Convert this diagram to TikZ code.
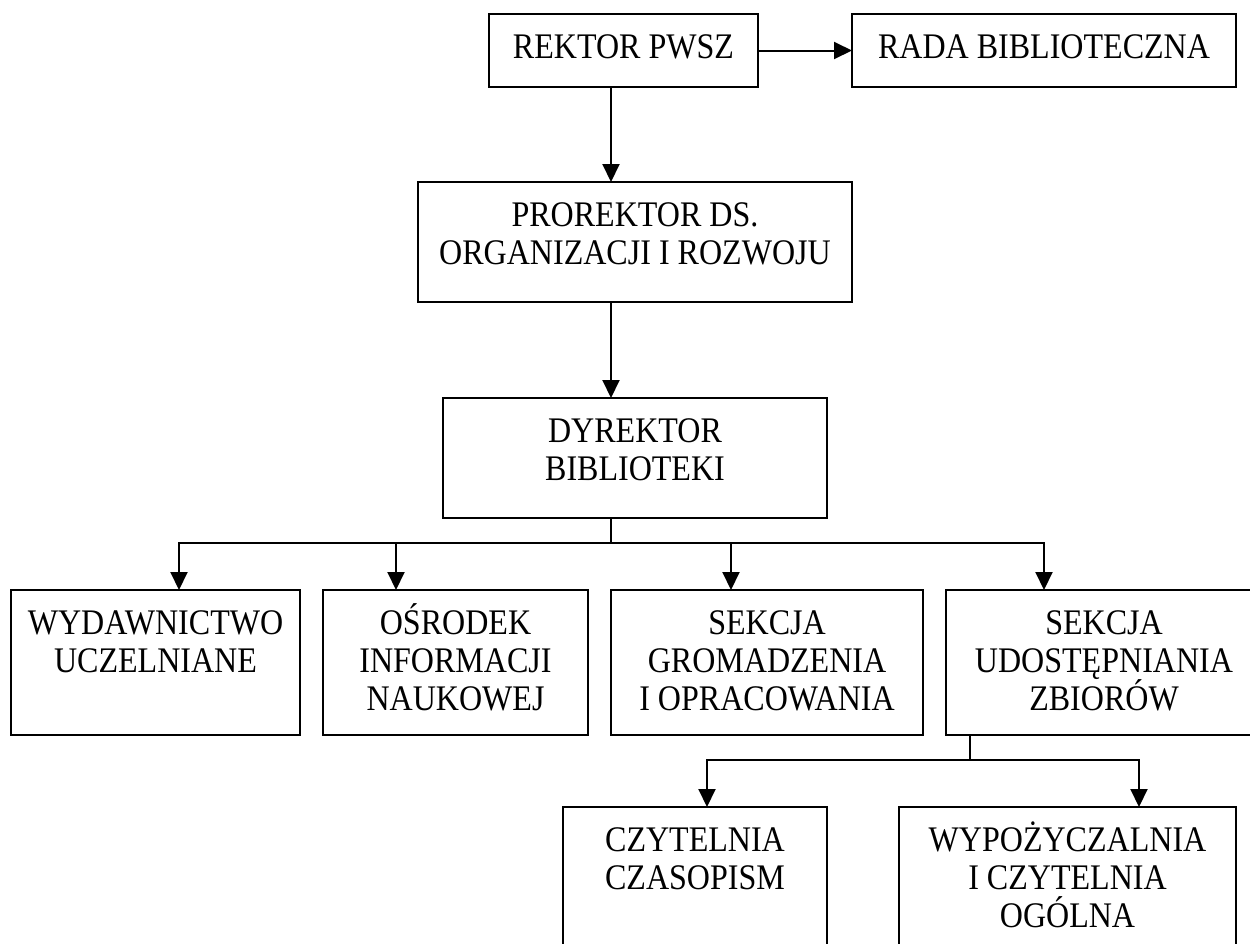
\documentclass[tikz,border=0pt]{standalone}
\usepackage{fontspec}
\setmainfont{Liberation Serif}[FakeStretch=0.89]
\usetikzlibrary{arrows.meta,calc}
\tikzset{
  orgbox/.style={draw, line width=1pt, rectangle, inner sep=0pt, outer sep=0pt, anchor=north west},
  orgtext/.style={anchor=north, inner sep=0pt, align=center, font=\fontsize{18}{19}\selectfont},
  conn/.style={line width=1pt},
  arr/.style={line width=1pt, -{Triangle[length=9pt,width=8.5pt]}}
}
\newcommand\obox[6]{%
  \node[orgbox, minimum width={(#4-#2)*0.5pt}, minimum height={(#5-#3)*0.5pt}] (#1) at (#2,#3) {};
  \node[orgtext] (#1-t) at ([yshift=-5pt]#1.north) {\rule{0pt}{17pt}#6};
}
\begin{document}
\begin{tikzpicture}[x=0.5pt,y=-0.5pt,execute at begin picture={\lineskiplimit=-20pt\relax}]
\useasboundingbox (0,0) rectangle (1250,944);
\obox{rek}{489}{14}{758}{87}{REKTOR PWSZ}
\obox{rada}{852}{14}{1236}{87}{RADA BIBLIOTECZNA}
\obox{pro}{418}{182}{852}{302}{PROREKTOR DS.\\ORGANIZACJI I ROZWOJU}
\obox{dyr}{443}{398}{827}{518}{DYREKTOR\\BIBLIOTEKI}
\obox{wyd}{11}{590}{300}{735}{WYDAWNICTWO\\UCZELNIANE}
\obox{osr}{323}{590}{588}{735}{OŚRODEK\\INFORMACJI\\NAUKOWEJ}
\obox{grom}{611}{590}{923}{735}{SEKCJA\\GROMADZENIA\\I OPRACOWANIA}
\obox{udo}{946}{590}{1262}{735}{SEKCJA\\UDOSTĘPNIANIA\\ZBIORÓW}
\obox{czyt}{563}{807}{827}{960}{CZYTELNIA\\CZASOPISM}
\obox{wyp}{899}{807}{1236}{960}{WYPOŻYCZALNIA\\I CZYTELNIA\\OGÓLNA}
% coordinates of vertical lines
\coordinate (mx) at (611,0);
\coordinate (b1) at (611,543);
\coordinate (a1) at (179,0);
\coordinate (a2) at (396,0);
\coordinate (a3) at (731,0);
\coordinate (a4) at (1044,0);
\coordinate (b2) at (970,760);
\coordinate (c1) at (707,0);
\coordinate (c2) at (1139,0);
% connectors
\draw[arr] (rek.east) -- (rada.west);
\draw[arr] (rek.south -| mx) -- (pro.north -| mx);
\draw[arr] (pro.south -| mx) -- (dyr.north -| mx);
\draw[conn] (dyr.south -| b1) -- (b1);
\draw[arr] (b1) -| (wyd.north -| a1);
\draw[arr] (b1) -| (osr.north -| a2);
\draw[arr] (b1) -| (grom.north -| a3);
\draw[arr] (b1) -| (udo.north -| a4);
\draw[conn] (udo.south -| b2) -- (b2);
\draw[arr] (b2) -| (czyt.north -| c1);
\draw[arr] (b2) -| (wyp.north -| c2);
\end{tikzpicture}
\end{document}
